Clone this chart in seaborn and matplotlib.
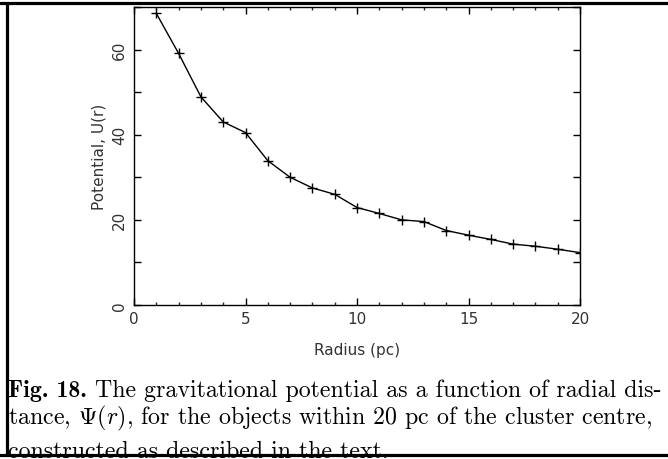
import matplotlib
matplotlib.use("Agg")
import matplotlib.pyplot as plt
from matplotlib.lines import Line2D
from matplotlib.ticker import MultipleLocator, FuncFormatter
import seaborn as sns
import pandas as pd

radius = [1, 2, 3, 4, 5, 6, 7, 8, 9, 10, 11, 12, 13, 14, 15, 16, 17, 18, 19, 20]
potential = [68.5, 59.1, 48.9, 43.0, 40.5, 33.9, 30.0, 27.5, 26.0, 22.9,
             21.5, 20.0, 19.6, 17.5, 16.4, 15.4, 14.3, 13.8, 13.1, 12.3]
x_label = "Radius (pc)"
y_label = "Potential, U(r)"
caption_head = "Fig. 18."
caption_lines = [
    " The gravitational potential as a function of radial dis-",
    r"tance, $\Psi(r)$, for the objects within 20 pc of the cluster centre,",
    "constructed as described in the text.",
]

sns.set_style("ticks")
plt.rcParams["font.family"] = ["DejaVu Sans"]
plt.rcParams["mathtext.fontset"] = "cm"

df = pd.DataFrame({"r": radius, "U": potential})

W, H = 668, 460
fig = plt.figure(figsize=(W / 100, H / 100), dpi=100)
ax = fig.add_axes([134 / W, 1 - 306 / H, (580 - 134) / W, (306 - 8) / H])

sns.lineplot(data=df, x="r", y="U", ax=ax, color="black", linewidth=1.0,
             marker="+", markersize=7, markeredgewidth=1.0,
             markeredgecolor="black", legend=False)

ax.set_xlim(0, 20)
ax.set_ylim(0, 70)
ax.xaxis.set_major_locator(MultipleLocator(5))
ax.xaxis.set_minor_locator(MultipleLocator(1))
ax.yaxis.set_major_locator(MultipleLocator(10))
ax.yaxis.set_major_formatter(FuncFormatter(lambda v, p: f"{int(v)}" if int(round(v)) % 20 == 0 else ""))

for s in ax.spines.values():
    s.set_visible(True)
    s.set_linewidth(1.0)
    s.set_color("black")

ax.tick_params(axis="both", which="major", direction="in", top=True, right=True,
               length=5, width=1.0, color="black", labelsize=11, labelcolor="#333333")
ax.tick_params(axis="x", which="major", pad=4)
ax.tick_params(axis="y", which="major", pad=5)
ax.tick_params(axis="x", which="minor", direction="in", top=True, length=2.5, width=1.0)
for lbl in ax.get_yticklabels():
    lbl.set_rotation(90)
    lbl.set_va("center")

ax.set_xlabel(x_label, fontsize=11, color="#333333")
ax.set_ylabel(y_label, fontsize=11, color="#333333")
ax.xaxis.set_label_coords(0.5, -(343 - 306) / 298)
ax.yaxis.set_label_coords(-(134 - 106) / 446, 0.5)

cap_size = 17.2
baselines = [397, 424, 458]
x0 = 8 / W
head = fig.text(x0, 1 - baselines[0] / H, caption_head, family="cmb10",
                fontsize=cap_size, va="baseline", ha="left", color="black")
fig.canvas.draw()
bb = head.get_window_extent(renderer=fig.canvas.get_renderer())
x_after = bb.x1 / W
fig.text(x_after, 1 - baselines[0] / H, caption_lines[0], family="cmr10",
         fontsize=cap_size, va="baseline", ha="left", color="black")
for line, yb in zip(caption_lines[1:], baselines[1:]):
    fig.text(x0, 1 - yb / H, line, family="cmr10", fontsize=cap_size,
             va="baseline", ha="left", color="black")

lw = 2.3
fig.add_artist(Line2D([0, 1], [1 - 4 / H, 1 - 4 / H], transform=fig.transFigure,
                      color="black", linewidth=lw, zorder=10))
fig.add_artist(Line2D([6.5 / W, 6.5 / W], [1 - 456 / H, 1 - 4 / H], transform=fig.transFigure,
                      color="black", linewidth=lw, zorder=10))
fig.add_artist(Line2D([0, 1], [1 - 455.5 / H, 1 - 455.5 / H], transform=fig.transFigure,
                      color="black", linewidth=lw, zorder=10))

fig.savefig("out.png", dpi=100, facecolor="white")
